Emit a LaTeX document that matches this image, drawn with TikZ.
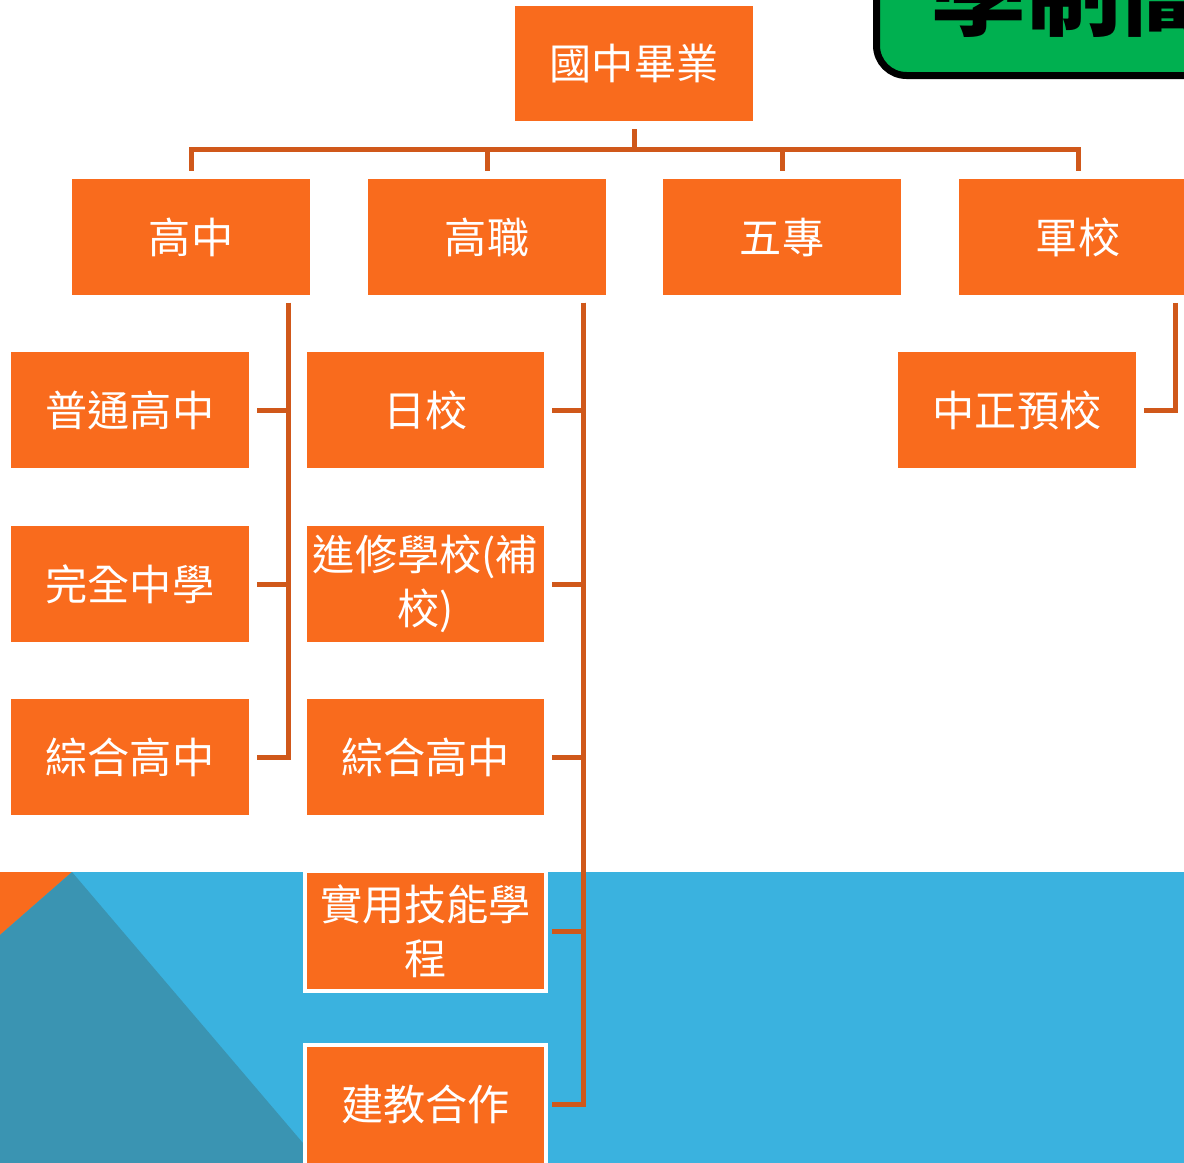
\documentclass[tikz,border=0pt]{standalone}
\usepackage{fontspec}
\setmainfont{Noto Sans CJK TC}
\usetikzlibrary{positioning}
\definecolor{pumpkin}{RGB}{249, 107, 29}
\definecolor{rust}{RGB}{208, 88, 26}
\definecolor{skyblue}{RGB}{58, 178, 223}
\definecolor{deepteal}{RGB}{58, 148, 178}
\definecolor{emerald}{RGB}{0, 176, 80}

\tikzset{
    box/.style={fill=pumpkin, draw=white, line width=0.08cm, minimum width=4.84cm, minimum height=2.40cm,
                inner sep=0pt, text=white, align=center, font=\fontsize{24}{31}\selectfont},
    link/.style={rust, line width=0.1cm, shorten <=0.08cm, shorten >=0.08cm},
}

\begin{document}
\begin{tikzpicture}[x=0.02cm, y=-0.02cm]
            % Frame
            \useasboundingbox                                                 (0, 0) rectangle (1184, 1163);
            \clip                                                             (0, 0) rectangle (1184, 1163);
            % Background band
            \fill[skyblue]                                                    (0, 872) rectangle (1184, 1163);
            \fill[pumpkin]                                                    (0, 872) -- (72, 872) -- (0, 935) -- cycle;
            \fill[deepteal]                                                   (0, 935) -- (72, 872) -- (320, 1163) -- (0, 1163) -- cycle;
            % Title banner
            \filldraw[fill=emerald, draw=black, line width=0.14cm, rounded corners=0.6cm] (876.5, 75.5) rectangle (1300, -80);
            \node[anchor=base west, font=\fontsize{54}{60}\selectfont\bfseries] (title) at (925, 28) {學制簡介};
            % Top
            \node[box] (gz)     at (634, 63.5)  {國中畢業};
            % Second row
            \node[box] (gaoz)   at (191, 237)   {高中};
            \node[box] (gaozhi) at (487, 237)   {高職};
            \node[box] (wuzh)   at (782, 237)   {五專};
            \node[box] (junx)   at (1078, 237)  {軍校};
            % Under 高中
            \node[box] (putong) at (130, 410)   {普通高中};
            \node[box] (wanq)   at (130, 584)   {完全中學};
            \node[box] (zongA)  at (130, 757)   {綜合高中};
            % Under 高職
            \node[box] (rix)    at (425.5, 410)  {日校};
            \node[box] (jinx)   at (425.5, 584)  {進修學校(補\\校)};
            \node[box] (zongB)  at (425.5, 757)  {綜合高中};
            \node[box] (shiy)   at (425.5, 931)  {實用技能學\\程};
            \node[box] (jianj)  at (425.5, 1104.5) {建教合作};
            % Under 軍校
            \node[box] (zhzh)   at (1017, 410)  {中正預校};
            % Bus from top
            \coordinate (bus) at (0, 149);
            \draw[link] (gz.south) -- (gz.south |- bus) -| (gaoz.north);
            \draw[link] (gz.south) -- (gz.south |- bus) -| (gaozhi.north);
            \draw[link] (gz.south) -- (gz.south |- bus) -| (wuzh.north);
            \draw[link] (gz.south) -- (gz.south |- bus) -| (junx.north);
            % 高中 branch
            \draw[link] ([xshift=1.96cm]gaoz.south) |- (putong.east);
            \draw[link] ([xshift=1.96cm]gaoz.south) |- (wanq.east);
            \draw[link] ([xshift=1.96cm]gaoz.south) |- (zongA.east);
            % 高職 branch
            \draw[link] ([xshift=1.94cm]gaozhi.south) |- (rix.east);
            \draw[link] ([xshift=1.94cm]gaozhi.south) |- (jinx.east);
            \draw[link] ([xshift=1.94cm]gaozhi.south) |- (zongB.east);
            \draw[link] ([xshift=1.94cm]gaozhi.south) |- (shiy.east);
            \draw[link] ([xshift=1.94cm]gaozhi.south) |- (jianj.east);
            % 軍校 branch
            \draw[link] ([xshift=1.96cm]junx.south) |- (zhzh.east);
        \end{tikzpicture}
\end{document}
